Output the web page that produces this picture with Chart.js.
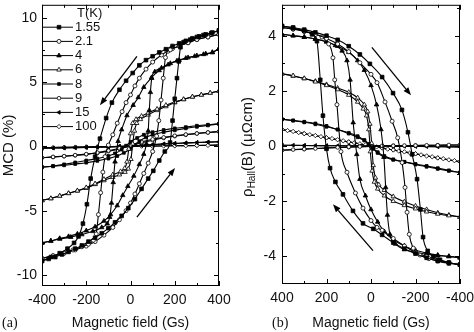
<!DOCTYPE html>
<html lang="en">
<head>
<meta charset="UTF-8">
<title>MCD and Hall hysteresis loops</title>
<script src="https://cdn.jsdelivr.net/npm/chart.js"></script>
<style>
  html, body { margin: 0; padding: 0; background: #fff; }
  #wrap { position: relative; width: 474px; height: 332px; }
  canvas { position: absolute; top: 0; }
  #chartA { left: 0; }
  #chartB { left: 237px; }
</style>
</head>
<body>
<div id="wrap">
  <canvas id="chartA" width="237" height="332"></canvas>
  <canvas id="chartB" width="237" height="332"></canvas>
</div>
<script>
// temperatures (K)
const temps = ['1.55', '2.1', '4', '6', '8', '9', '15', '100'];

// ticks
const fieldTicks = [-400, -200, 0, 200, 400];
const fieldMinor = [-300, -100, 100, 300];
const mcdTicks = [-10, -5, 0, 5, 10];
const mcdMinor = [-7.5, -2.5, 2.5, 7.5];
const hallTicks = [-4, -2, 0, 2, 4];
const hallMinor = [-3, -1, 1, 3, 5];

// (a) MCD (%) vs field (Gs): [field, value], down = sweep from +400, up = sweep from -400
const mcd155Down = [[400,9.0],[370,8.85],[340,8.7],[310,8.55],[280,8.4],[250,8.2],[220,8.0],[190,7.8],[160,7.55],[130,7.3],[100,7.0],[70,6.7],[40,6.3],[10,5.7],[-20,5.1],[-50,4.4],[-84,3.4],[-110,2.2],[-138,0.6],[-160,-0.8],[-180,-2.5],[-197,-4.5],[-215,-6.0],[-235,-7.0],[-255,-7.5],[-285,-7.95],[-320,-8.3],[-360,-8.6],[-400,-8.9]];
const mcd155Up = [[-400,-8.9],[-370,-8.75],[-340,-8.6],[-310,-8.4],[-280,-8.2],[-250,-7.95],[-220,-7.7],[-190,-7.4],[-160,-7.1],[-130,-6.75],[-100,-6.35],[-70,-5.9],[-40,-5.4],[-10,-4.8],[20,-4.1],[50,-3.3],[80,-2.5],[103,-1.9],[130,-1.1],[155,-0.4],[179,0.3],[190,2.0],[200,3.7],[210,5.3],[218,6.6],[226,7.7],[240,8.1],[270,8.3],[300,8.5],[330,8.65],[365,8.8],[400,9.0]];
const mcd21Down = [[400,8.7],[350,8.5],[300,8.3],[260,8.05],[220,7.8],[180,7.5],[140,7.1],[100,6.55],[70,6.0],[40,5.3],[20,4.7],[0,4.0],[-20,3.4],[-38,2.7],[-60,1.8],[-80,0.9],[-100,0.1],[-115,-0.8],[-125,-2.0],[-135,-3.6],[-145,-5.3],[-155,-6.8],[-168,-7.3],[-190,-7.6],[-220,-7.8],[-260,-8.05],[-300,-8.3],[-350,-8.5],[-400,-8.7]];
const mcd21Up = [[-400,-8.7],[-350,-8.5],[-300,-8.3],[-250,-8.05],[-200,-7.75],[-160,-7.4],[-120,-6.9],[-80,-6.3],[-50,-5.7],[-20,-5.0],[0,-4.4],[20,-3.7],[40,-2.9],[60,-2.1],[80,-1.3],[100,-0.4],[118,0.8],[128,2.0],[138,3.6],[148,5.3],[158,6.9],[170,7.4],[190,7.6],[220,7.8],[260,8.05],[300,8.3],[350,8.5],[400,8.7]];
const mcd4Down = [[400,7.6],[370,7.3],[330,7.15],[290,7.0],[250,6.85],[210,6.65],[170,6.35],[130,5.9],[95,5.35],[60,4.6],[35,3.8],[12,3.2],[-16,2.4],[-40,1.3],[-56,0.4],[-70,-1.2],[-78,-2.8],[-86,-4.4],[-94,-5.5],[-105,-6.0],[-130,-6.3],[-170,-6.6],[-220,-6.85],[-270,-7.05],[-320,-7.2],[-360,-7.35],[-400,-7.5]];
const mcd4Up = [[-400,-7.5],[-360,-7.35],[-320,-7.15],[-280,-7.0],[-240,-6.8],[-200,-6.55],[-160,-6.25],[-120,-5.8],[-90,-5.3],[-60,-4.6],[-35,-3.8],[-12,-3.1],[15,-2.3],[40,-1.4],[60,-0.6],[72,0.2],[80,1.2],[85,2.8],[90,4.2],[96,5.3],[110,5.8],[140,6.1],[180,6.45],[220,6.7],[260,6.9],[300,7.05],[340,7.2],[370,7.3],[400,7.6]];
const mcd6Down = [[400,4.3],[360,4.15],[320,4.0],[280,3.85],[240,3.65],[200,3.45],[160,3.2],[120,2.9],[80,2.6],[50,2.35],[25,2.1],[10,1.8],[0,1.0],[-8,-0.2],[-16,-1.2],[-26,-1.7],[-45,-1.95],[-80,-2.2],[-120,-2.55],[-160,-2.9],[-200,-3.2],[-240,-3.45],[-280,-3.65],[-320,-3.85],[-360,-4.05],[-400,-4.2]];
const mcd6Up = [[-400,-4.2],[-360,-4.05],[-320,-3.85],[-280,-3.65],[-240,-3.45],[-200,-3.25],[-160,-2.95],[-120,-2.65],[-80,-2.4],[-50,-2.2],[-25,-2.0],[-10,-1.75],[2,-1.0],[10,0.2],[18,1.2],[28,1.8],[45,2.1],[80,2.45],[120,2.8],[160,3.1],[200,3.4],[240,3.65],[280,3.85],[320,4.0],[360,4.15],[400,4.3]];
const mcd8Down = [[400,1.75],[350,1.68],[300,1.6],[250,1.5],[200,1.4],[150,1.27],[100,1.1],[60,0.9],[30,0.65],[0,0.35],[-20,0.05],[-40,-0.25],[-70,-0.55],[-100,-0.75],[-150,-0.95],[-200,-1.1],[-250,-1.25],[-300,-1.4],[-350,-1.52],[-400,-1.62]];
const mcd8Up = [[-400,-1.62],[-350,-1.55],[-300,-1.47],[-250,-1.37],[-200,-1.27],[-150,-1.13],[-100,-0.95],[-60,-0.75],[-30,-0.5],[0,-0.2],[20,0.1],[40,0.4],[70,0.7],[100,0.9],[150,1.1],[200,1.25],[250,1.4],[300,1.52],[350,1.63],[400,1.75]];
const mcd9Down = [[400,1.15],[350,1.08],[300,1.0],[250,0.92],[200,0.83],[150,0.7],[100,0.55],[50,0.35],[0,0.1],[-50,-0.15],[-100,-0.33],[-150,-0.48],[-200,-0.6],[-250,-0.68],[-300,-0.76],[-350,-0.82],[-400,-0.88]];
const mcd9Up = [[-400,-0.88],[-350,-0.83],[-300,-0.77],[-250,-0.7],[-200,-0.62],[-150,-0.52],[-100,-0.38],[-50,-0.2],[0,0.03],[50,0.28],[100,0.48],[150,0.65],[200,0.79],[250,0.9],[300,1.0],[350,1.08],[400,1.15]];
const mcd15Down = [[400,0.36],[350,0.33],[300,0.3],[250,0.27],[200,0.23],[150,0.19],[100,0.14],[50,0.09],[0,0.04],[-50,0.0],[-100,-0.03],[-150,-0.06],[-200,-0.08],[-250,-0.1],[-300,-0.12],[-350,-0.13],[-400,-0.15]];
const mcd15Up = [[-400,-0.15],[-350,-0.13],[-300,-0.12],[-250,-0.1],[-200,-0.08],[-150,-0.06],[-100,-0.04],[-50,-0.01],[0,0.03],[50,0.08],[100,0.13],[150,0.18],[200,0.22],[250,0.26],[300,0.3],[350,0.33],[400,0.36]];
const mcd100Down = [[400,0.1],[350,0.08],[300,0.07],[250,0.05],[200,0.05],[150,0.03],[100,0.02],[50,0.02],[0,0.0],[-50,-0.01],[-100,-0.03],[-150,-0.03],[-200,-0.05],[-250,-0.06],[-300,-0.07],[-350,-0.09],[-400,-0.1]];
const mcd100Up = [[-400,-0.1],[-300,-0.07],[-200,-0.05],[-100,-0.02],[0,0.0],[100,0.03],[200,0.05],[300,0.07],[400,0.1]];

// (b) rho_Hall (uOhm cm) vs field (Gs)
const hall155Down = [[400,4.35],[350,4.3],[300,4.22],[250,4.12],[200,4.0],[150,3.85],[100,3.62],[50,3.32],[5,2.98],[-50,2.5],[-99,1.92],[-139,1.31],[-166,0.5],[-185,-0.3],[-207,-1.2],[-222,-2.3],[-234,-3.3],[-255,-3.8],[-280,-4.0],[-310,-4.12],[-350,-4.22],[-400,-4.3]];
const hall155Up = [[-400,-4.3],[-350,-4.25],[-300,-4.17],[-250,-4.05],[-200,-3.9],[-150,-3.72],[-100,-3.5],[-50,-3.22],[-10,-3.0],[36,-2.8],[81,-2.35],[126,-1.75],[160,-1.3],[184,-0.8],[200,-0.1],[216,1.1],[228,2.4],[243,3.8],[265,4.05],[300,4.18],[350,4.27],[400,4.35]];
const hall21Down = [[400,4.3],[350,4.24],[300,4.15],[250,4.04],[200,3.9],[150,3.7],[100,3.42],[50,3.02],[0,2.6],[-27,2.3],[-63,1.6],[-95,0.9],[-120,0.3],[-140,-0.6],[-153,-1.5],[-162,-2.4],[-172,-3.2],[-190,-3.7],[-220,-3.95],[-260,-4.08],[-300,-4.16],[-350,-4.24],[-400,-4.3]];
const hall21Up = [[-400,-4.3],[-350,-4.22],[-300,-4.12],[-250,-4.0],[-200,-3.85],[-150,-3.62],[-100,-3.35],[-50,-3.05],[-27,-2.95],[0,-2.7],[36,-2.25],[70,-1.7],[108,-0.95],[135,-0.2],[153,1.5],[163,2.4],[171,3.2],[190,3.7],[220,3.95],[260,4.08],[300,4.16],[350,4.24],[400,4.3]];
const hall4Down = [[400,4.05],[350,4.0],[300,3.95],[250,3.88],[200,3.78],[150,3.62],[100,3.4],[60,3.1],[30,2.75],[0,2.2],[-25,1.5],[-45,0.6],[-58,-0.4],[-66,-1.5],[-74,-2.5],[-85,-3.2],[-110,-3.55],[-150,-3.75],[-200,-3.85],[-250,-3.92],[-300,-3.97],[-350,-4.0],[-400,-4.05]];
const hall4Up = [[-400,-4.05],[-350,-4.0],[-300,-3.95],[-250,-3.88],[-200,-3.78],[-150,-3.62],[-100,-3.4],[-60,-3.1],[-30,-2.75],[0,-2.3],[25,-1.8],[50,-1.2],[64,-0.3],[80,0.85],[94,2.4],[108,3.1],[130,3.45],[160,3.65],[200,3.78],[250,3.88],[300,3.95],[350,4.0],[400,4.05]];
const hall6Down = [[400,2.62],[350,2.55],[300,2.45],[250,2.33],[200,2.2],[150,2.05],[100,1.85],[60,1.6],[35,1.35],[20,1.1],[10,0.6],[3,-0.2],[-5,-0.9],[-15,-1.3],[-30,-1.55],[-60,-1.8],[-100,-2.0],[-150,-2.15],[-200,-2.27],[-250,-2.38],[-300,-2.46],[-350,-2.52],[-400,-2.57]];
const hall6Up = [[-400,-2.57],[-350,-2.5],[-300,-2.42],[-250,-2.3],[-200,-2.17],[-150,-2.02],[-100,-1.83],[-60,-1.6],[-35,-1.4],[-20,-1.15],[-10,-0.7],[-3,0.1],[5,0.8],[15,1.25],[30,1.5],[60,1.75],[100,1.95],[150,2.1],[200,2.23],[250,2.35],[300,2.45],[350,2.54],[400,2.62]];
const hall8Down = [[400,0.97],[350,0.93],[300,0.88],[250,0.82],[200,0.73],[150,0.6],[100,0.45],[60,0.32],[30,0.2],[10,0.06],[-10,-0.1],[-30,-0.25],[-60,-0.4],[-100,-0.5],[-150,-0.57],[-200,-0.65],[-250,-0.72],[-300,-0.8],[-350,-0.88],[-400,-0.96]];
const hall8Up = [[-400,-0.96],[-350,-0.9],[-300,-0.83],[-250,-0.75],[-200,-0.67],[-150,-0.58],[-100,-0.48],[-60,-0.36],[-30,-0.22],[-10,-0.08],[10,0.08],[30,0.22],[60,0.36],[100,0.48],[150,0.6],[200,0.7],[250,0.79],[300,0.86],[350,0.92],[400,0.97]];
const hall9Down = [[400,-0.15],[350,-0.13],[300,-0.11],[250,-0.09],[200,-0.07],[150,-0.05],[100,-0.03],[50,-0.02],[0,0.0],[-50,0.01],[-100,0.01],[-150,0.02],[-200,0.02],[-250,0.03],[-300,0.03],[-350,0.04],[-400,0.04]];
const hall9Up = [[-400,0.04],[-300,0.03],[-200,0.02],[-100,0.01],[0,-0.01],[100,-0.04],[200,-0.07],[300,-0.11],[400,-0.15]];
const hall15Down = [[400,0.03],[350,0.03],[300,0.02],[250,0.02],[200,0.01],[150,0.01],[100,0.01],[50,0.0],[0,0.0],[-50,0.0],[-100,-0.01],[-150,-0.01],[-200,-0.01],[-250,-0.02],[-300,-0.02],[-350,-0.03],[-400,-0.03]];
const hall15Up = [[-400,-0.03],[-300,-0.02],[-200,-0.01],[-100,0.0],[0,0.0],[100,0.01],[200,0.01],[300,0.02],[400,0.03]];
const hall100Down = [[400,0.6],[375,0.56],[350,0.53],[325,0.49],[300,0.45],[275,0.41],[250,0.38],[225,0.34],[200,0.3],[175,0.27],[150,0.23],[125,0.19],[100,0.15],[75,0.12],[50,0.08],[25,0.04],[0,0.0],[-25,-0.03],[-50,-0.07],[-75,-0.11],[-100,-0.14],[-125,-0.18],[-150,-0.21],[-175,-0.25],[-200,-0.28],[-225,-0.32],[-250,-0.36],[-275,-0.39],[-300,-0.43],[-325,-0.46],[-350,-0.5],[-375,-0.53],[-400,-0.57]];
const hall100Up = [[-400,-0.57],[-300,-0.43],[-200,-0.28],[-100,-0.14],[0,0.0],[100,0.15],[200,0.3],[300,0.45],[400,0.6]];

// arrows [fromField, fromValue, toField, toValue]
const arrowsA = [[29, 7.0, -138, 3.2], [29, -5.5, 201, -1.68]];
const arrowsB = [[-4, 3.58, -180, 1.84], [-9, -3.79, 171, -2.11]];

const mcdDown = [mcd155Down, mcd21Down, mcd4Down, mcd6Down, mcd8Down, mcd9Down, mcd15Down, mcd100Down];
const mcdUp = [mcd155Up, mcd21Up, mcd4Up, mcd6Up, mcd8Up, mcd9Up, mcd15Up, mcd100Up];
const hallDown = [hall155Down, hall21Down, hall4Down, hall6Down, hall8Down, hall9Down, hall15Down, hall100Down];
const hallUp = [hall155Up, hall21Up, hall4Up, hall6Up, hall8Up, hall9Up, hall15Up, hall100Up];

// marker look per temperature
const markerStyles = [
  { style: 'rect', fill: '#000', r: 2.6, rot: 0 },
  { style: 'circle', fill: '#fff', r: 2.0, rot: 0 },
  { style: 'triangle', fill: '#000', r: 2.6, rot: 0 },
  { style: 'triangle', fill: '#fff', r: 2.6, rot: 0 },
  { style: 'rect', fill: '#000', r: 2.0, rot: 0 },
  { style: 'circle', fill: '#fff', r: 1.8, rot: 0 },
  { style: 'triangle', fill: '#000', r: 2.2, rot: -90 },
  { style: 'rectRot', fill: '#fff', r: 2.2, rot: 0 }
];

const sansFont = '"Liberation Sans", Arial, Helvetica, sans-serif';
const ink = '#111';

function buildSets(down, up) {
  const sets = [];
  temps.forEach((t, i) => {
    const st = markerStyles[i];
    [down[i], up[i]].forEach((branch, k) => {
      sets.push({
        label: k === 0 ? t : '',
        data: branch.map(p => ({ x: p[0], y: p[1] })),
        borderColor: '#000',
        borderWidth: 1.1,
        pointStyle: st.style,
        pointRadius: st.r,
        pointRotation: st.rot,
        pointBackgroundColor: st.fill,
        pointBorderColor: '#000',
        pointBorderWidth: 0.8,
        cubicInterpolationMode: 'monotone',
        fill: false
      });
    });
  });
  return sets;
}

// box + inward ticks on all four sides
const frameTicks = {
  id: 'frameTicks',
  afterDraw(chart, args, o) {
    const { ctx, chartArea: a, scales: { x, y } } = chart;
    ctx.save();
    ctx.strokeStyle = '#000';
    ctx.lineWidth = 1;
    ctx.strokeRect(a.left + 0.5, a.top + 0.5, a.right - a.left - 1, a.bottom - a.top - 1);
    ctx.beginPath();
    const xt = (vals, len) => vals.forEach(v => {
      const px = Math.round(x.getPixelForValue(v)) + 0.5;
      ctx.moveTo(px, a.bottom); ctx.lineTo(px, a.bottom - len);
      ctx.moveTo(px, a.top); ctx.lineTo(px, a.top + len);
    });
    const yt = (vals, len) => vals.forEach(v => {
      const py = Math.round(y.getPixelForValue(v)) + 0.5;
      ctx.moveTo(a.left, py); ctx.lineTo(a.left + len, py);
      ctx.moveTo(a.right, py); ctx.lineTo(a.right - len, py);
    });
    xt(o.xMajor, 5); xt(o.xMinor, 3);
    yt(o.yMajor, 5); yt(o.yMinor, 3);
    ctx.stroke();
    ctx.restore();
  }
};

const arrowMarks = {
  id: 'arrowMarks',
  afterDatasetsDraw(chart, args, o) {
    const { ctx, scales: { x, y } } = chart;
    ctx.save();
    ctx.strokeStyle = '#000';
    ctx.fillStyle = '#000';
    ctx.lineWidth = 1.3;
    o.list.forEach(a => {
      const x0 = x.getPixelForValue(a[0]), y0 = y.getPixelForValue(a[1]);
      const x1 = x.getPixelForValue(a[2]), y1 = y.getPixelForValue(a[3]);
      const ang = Math.atan2(y1 - y0, x1 - x0);
      const L = 8, W = 3;
      const bx = x1 - L * Math.cos(ang), by = y1 - L * Math.sin(ang);
      ctx.beginPath(); ctx.moveTo(x0, y0); ctx.lineTo(bx, by); ctx.stroke();
      ctx.beginPath();
      ctx.moveTo(x1, y1);
      ctx.lineTo(bx + W * Math.sin(ang), by - W * Math.cos(ang));
      ctx.lineTo(bx - W * Math.sin(ang), by + W * Math.cos(ang));
      ctx.closePath(); ctx.fill();
    });
    ctx.restore();
  }
};

// legend with line + marker samples, inside panel (a)
const tLegend = {
  id: 'tLegend',
  afterDraw(chart, args, o) {
    if (!o.show) return;
    const ctx = chart.ctx;
    ctx.save();
    ctx.font = '13px ' + sansFont;
    ctx.textBaseline = 'middle';
    ctx.textAlign = 'left';
    ctx.fillStyle = ink;
    ctx.fillText('T(K)', o.textX + 2, o.top);
    temps.forEach((t, i) => {
      const y = o.top + o.step * (i + 1);
      const st = markerStyles[i];
      ctx.strokeStyle = '#000';
      ctx.lineWidth = 1;
      ctx.beginPath(); ctx.moveTo(o.lineX0, y); ctx.lineTo(o.lineX1, y); ctx.stroke();
      ctx.fillStyle = st.fill;
      ctx.lineWidth = 0.8;
      Chart.helpers.drawPoint(ctx, { pointStyle: st.style, radius: st.r, rotation: st.rot, borderWidth: 0.8 }, o.markX, y);
      ctx.fillStyle = ink;
      ctx.fillText(t, o.textX, y);
    });
    ctx.restore();
  }
};

// rotated y title with subscript, and the panel tag
const sideText = {
  id: 'sideText',
  afterDraw(chart, args, o) {
    const ctx = chart.ctx;
    ctx.save();
    ctx.fillStyle = ink;
    ctx.textBaseline = 'middle';
    ctx.textAlign = 'left';
    ctx.font = '14px "Liberation Serif", "Times New Roman", serif';
    ctx.fillText(o.tag, o.tagX, o.tagY);
    if (o.hall) {
      const big = '15px ' + sansFont, small = '10px ' + sansFont;
      const parts = [['\u03c1', big, 0], ['Hall', small, 4], ['(B) (\u03bc\u03a9cm)', big, 0]];
      let total = 0;
      parts.forEach(p => { ctx.font = p[1]; p.push(ctx.measureText(p[0]).width); total += p[3]; });
      ctx.translate(o.hall.x, o.hall.y);
      ctx.rotate(-Math.PI / 2);
      let cx = -total / 2;
      parts.forEach(p => { ctx.font = p[1]; ctx.fillText(p[0], cx, p[2]); cx += p[3]; });
    }
    ctx.restore();
  }
};

function makeChart(id, cfg) {
  return new Chart(document.getElementById(id), {
    type: 'line',
    data: { datasets: buildSets(cfg.down, cfg.up) },
    plugins: [arrowMarks, frameTicks, tLegend, sideText],
    options: {
      responsive: false,
      animation: false,
      devicePixelRatio: 1,
      events: [],
      layout: { padding: cfg.padding },
      plugins: {
        legend: { display: false },
        tooltip: { enabled: false },
        frameTicks: { xMajor: fieldTicks, xMinor: fieldMinor, yMajor: cfg.yTicks, yMinor: cfg.yMinor },
        arrowMarks: { list: cfg.arrows },
        tLegend: cfg.legend,
        sideText: cfg.side
      },
      scales: {
        x: {
          type: 'linear',
          min: -400, max: 400,
          reverse: cfg.reverse,
          afterBuildTicks: s => { s.ticks = fieldTicks.map(v => ({ value: v })); },
          afterFit: s => { s.height = cfg.xHeight; s.paddingLeft = 0; s.paddingRight = 0; },
          grid: { display: false, drawTicks: false },
          border: { display: false },
          ticks: { color: ink, font: { family: sansFont, size: 14 }, padding: 6, maxRotation: 0, callback: v => String(v) },
          title: { display: true, text: 'Magnetic field (Gs)', color: ink, font: { family: sansFont, size: 14 }, padding: 0 }
        },
        y: {
          type: 'linear',
          min: cfg.yMin, max: cfg.yMax,
          afterBuildTicks: s => { s.ticks = cfg.yTicks.map(v => ({ value: v })); },
          afterFit: s => { s.width = cfg.yWidth; s.paddingTop = 0; s.paddingBottom = 0; },
          grid: { display: false, drawTicks: false },
          border: { display: false },
          ticks: { color: ink, font: { family: sansFont, size: 14 }, padding: cfg.yPad, callback: v => String(v) },
          title: { display: !!cfg.yTitle, text: cfg.yTitle || '', color: ink, font: { family: sansFont, size: 15 }, padding: 0 }
        }
      }
    }
  });
}

makeChart('chartA', {
  down: mcdDown, up: mcdUp,
  padding: { top: 0, right: 18, bottom: 0, left: 0 },
  reverse: false,
  xHeight: 46, yWidth: 42, yPad: 5,
  yMin: -10.85, yMax: 11, yTicks: mcdTicks, yMinor: mcdMinor,
  yTitle: 'MCD (%)',
  arrows: arrowsA,
  legend: { show: true, top: 13, step: 14.2, lineX0: 43, lineX1: 73, markX: 59, textX: 75 },
  side: { tag: '(a)', tagX: 2, tagY: 323 }
});

makeChart('chartB', {
  down: hallDown, up: hallUp,
  padding: { top: 0, right: 14, bottom: 0, left: 0 },
  reverse: true,
  xHeight: 48, yWidth: 45, yPad: 6,
  yMin: -5, yMax: 5.12, yTicks: hallTicks, yMinor: hallMinor,
  yTitle: '',
  arrows: arrowsB,
  legend: { show: false },
  side: { tag: '(b)', tagX: 35, tagY: 323, hall: { x: 11, y: 147 } }
});
</script>
</body>
</html>
